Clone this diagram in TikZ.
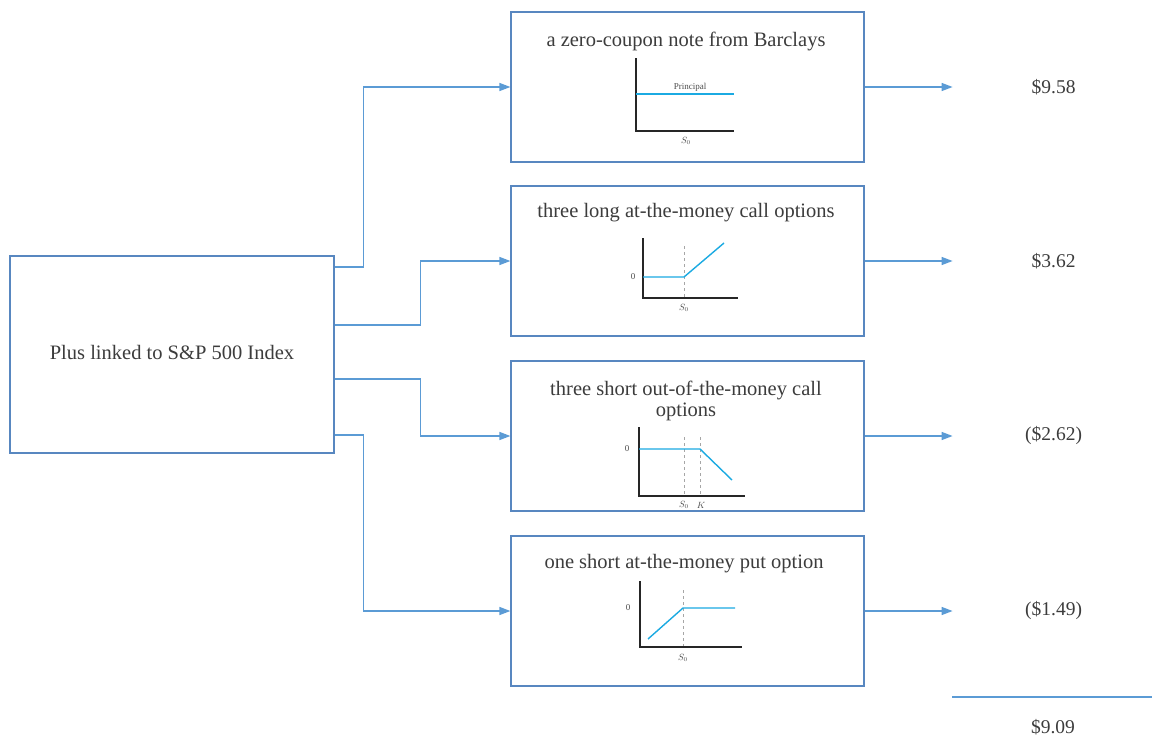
\documentclass[tikz,border=0pt]{standalone}
\usepackage{fontspec}
\setmainfont{Liberation Serif}
\usetikzlibrary{calc,arrows.meta}

\definecolor{boxblue}{RGB}{88,135,192}
\definecolor{linkblue}{RGB}{91,155,213}
\definecolor{payblue}{RGB}{27,170,226}
\definecolor{txtgray}{RGB}{60,60,60}

\tikzset{
  blockbox/.style={draw=boxblue, line width=1.2pt, fill=white, rectangle, minimum width=353pt, minimum height=150pt},
  link/.style={draw=linkblue, line width=1.4pt, -{Triangle[length=11pt,width=8pt]}},
  axis/.style={draw=black!85, line width=1.1pt},
  payoff/.style={draw=payblue, line width=1.4pt},
  strike/.style={draw=black!35, dashed, line width=0.6pt},
  title/.style={text=txtgray, font=\fontsize{20.5}{21}\selectfont, align=center},
  value/.style={text=txtgray, font=\fontsize{19.5}{21}\selectfont},
  tiny/.style={text=black!70, font=\fontsize{9}{10}\selectfont, inner sep=1pt}
}

\begin{document}
\begin{tikzpicture}[x=1pt, y=-1pt]
  \useasboundingbox (0,0) rectangle (1152,736);

  % source block
  \node[draw=boxblue, line width=1.2pt, minimum width=324pt, minimum height=197pt] (plus) at (172,354.5) {};
  \node[title] (plustxt) at (172,352) {Plus linked to S\&P 500 Index};

  % the four pieces
  \node[blockbox] (note) at (687.5,87) {};
  \node[blockbox] (call) at (687.5,261) {};
  \node[blockbox] (short) at (687.5,436) {};
  \node[blockbox] (put) at (687.5,611) {};

  \node[title] (notetxt) at (686,41) {a zero-coupon note from Barclays};
  \node[title] (calltxt) at (686,213) {three long at-the-money call options};
  \node[title] (shorttxt) at (686,401) {three short out-of-the-money call\\options};
  \node[title] (puttxt) at (684,564) {one short at-the-money put option};

  % payoff: note
  \draw[axis] (636,58) -- (636,131) -- (734,131);
  \draw[payoff] (636,94) -- (734,94);
  \node[tiny] (principal) at (690,87) {Principal};
  \node[tiny] (s0a) at (686,141) {$S_0$};

  % payoff: long call
  \draw[strike] (684,246) -- (684,298);
  \draw[axis] (643,238) -- (643,298) -- (738,298);
  \draw[payoff] (643,277) -- (684,277) -- (724,243);
  \node[tiny] (zerob) at (633,277) {0};
  \node[tiny] (s0b) at (684,308) {$S_0$};

  % payoff: short call
  \draw[strike] (684,437) -- (684,496);
  \draw[strike] (700,437) -- (700,496);
  \draw[axis] (639,427) -- (639,496) -- (745,496);
  \draw[payoff] (639,449) -- (700,449) -- (732,480);
  \node[tiny] (zeroc) at (627,449) {0};
  \node[tiny] (s0c) at (684,505) {$S_0$};
  \node[tiny] (kc) at (701,505) {$K$};

  % payoff: short put
  \draw[strike] (683,590) -- (683,647);
  \draw[axis] (640,581) -- (640,647) -- (742,647);
  \draw[payoff] (648,639) -- (683,608) -- (735,608);
  \node[tiny] (zerod) at (628,608) {0};
  \node[tiny] (s0d) at (683,658) {$S_0$};

  % split into pieces
  \draw[link] ([yshift=87.5pt]plus.east) -- ++(29,0) |- (note.west);
  \draw[link] ([yshift=29.5pt]plus.east) -- ++(86,0) |- (call.west);
  \draw[link] ([yshift=-24.5pt]plus.east) -- ++(86,0) |- (short.west);
  \draw[link] ([yshift=-80.5pt]plus.east) -- ++(29,0) |- (put.west);

  % values
  \foreach \blk/\val/\name in {note/\$9.58/v1, call/\$3.62/v2, short/(\$2.62)/v3, put/(\$1.49)/v4}{
    \coordinate (\name end) at ($(\blk.east)+(88,0)$);
    \draw[link] (\blk.east) -- (\name end);
    \node[value] (\name) at ($(\blk.east)+(189,0)$) {\val};
  }

  % total
  \coordinate (suml) at (952,697);
  \coordinate (sumr) at (1152,697);
  \draw[draw=linkblue, line width=1.4pt] (suml) -- (sumr);
  \node[value] (total) at (1053,727) {\$9.09};
\end{tikzpicture}
\end{document}
